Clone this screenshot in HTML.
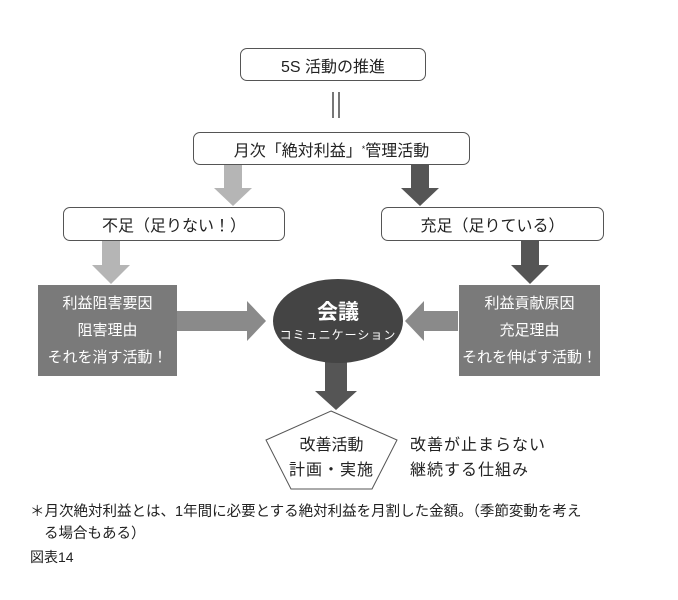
<!DOCTYPE html>
<html><head><meta charset="utf-8"><style>
body{margin:0;background:#fff;width:678px;height:600px;overflow:hidden;font-family:"Liberation Sans","Noto Sans CJK JP",sans-serif;}
.abs{position:absolute}
.rb{position:absolute;border:1px solid #555;border-radius:7px;background:#fff;display:flex;align-items:center;justify-content:center;font-size:16px;color:#222;box-sizing:border-box}
.gb{position:absolute;background:#7a7a7a;color:#fff;font-size:15px;line-height:27px;text-align:center;display:flex;flex-direction:column;justify-content:center;box-sizing:border-box;white-space:nowrap}
.t{position:absolute;font-size:16px;color:#222;white-space:nowrap}
</style></head><body>
<div class="rb" style="left:240px;top:48px;width:186px;height:33px">5S 活動の推進</div>
<div class="abs" style="left:332px;top:92px;width:2px;height:26px;background:#777"></div>
<div class="abs" style="left:338px;top:92px;width:2px;height:26px;background:#777"></div>
<div class="rb" style="left:193px;top:132px;width:277px;height:33px">月次「絶対利益」<sup style="font-size:9px;vertical-align:8px">*</sup>管理活動</div>
<div class="rb" style="left:63px;top:207px;width:222px;height:34px">不足（足りない！）</div>
<div class="rb" style="left:381px;top:207px;width:223px;height:34px">充足（足りている）</div>
<svg class="abs" style="left:0;top:0" width="678" height="600">
 <polygon points="224,165 242,165 242,188 252,188 233,206 214,188 224,188" fill="#b5b5b5"/>
 <polygon points="411,165 429,165 429,188 439,188 420,206 401,188 411,188" fill="#555"/>
 <polygon points="102,241 120,241 120,265 130,265 111,284 92,265 102,265" fill="#b5b5b5"/>
 <polygon points="521,241 539,241 539,265 549,265 530,284 511,265 521,265" fill="#555"/>
 <polygon points="177,311 247,311 247,301 266,321 247,341 247,331 177,331" fill="#8a8a8a"/>
 <polygon points="458,311 424,311 424,301 405,321 424,341 424,331 458,331" fill="#8a8a8a"/>
 <polygon points="325,360 347,360 347,391 357,391 336,410 315,391 325,391" fill="#555"/>
 <ellipse cx="338" cy="321" rx="65" ry="42" fill="#444"/>
 <polygon points="331,411 397,440 372,489 291,489 266,440" fill="#fff" stroke="#555" stroke-width="1"/>
</svg>
<div class="gb" style="left:38px;top:285px;width:139px;height:91px"><div>利益阻害要因</div><div>阻害理由</div><div>それを消す活動！</div></div>
<div class="gb" style="left:459px;top:285px;width:141px;height:91px"><div>利益貢献原因</div><div>充足理由</div><div>それを伸ばす活動！</div></div>
<div class="t" style="left:273px;top:296px;width:130px;text-align:center;color:#fff;font-size:21px;font-weight:bold">会議</div>
<div class="t" style="left:273px;top:326px;width:130px;text-align:center;color:#fff;font-size:12px;letter-spacing:1px">コミュニケーション</div>
<div class="t" style="left:266px;top:431px;width:131px;text-align:center">改善活動</div>
<div class="t" style="left:266px;top:456px;width:131px;text-align:center;letter-spacing:1px">計画・実施</div>
<div class="t" style="left:410px;top:431px;letter-spacing:1px">改善が止まらない</div>
<div class="t" style="left:410px;top:456px;letter-spacing:1px">継続する仕組み</div>
<div class="t" style="left:30px;top:500px;font-size:14.5px">＊月次絶対利益とは、1年間に必要とする絶対利益を月割した金額。（季節変動を考え</div>
<div class="t" style="left:44px;top:522px;font-size:14.5px">る場合もある）</div>
<div class="t" style="left:30px;top:547px;font-size:14px">図表14</div>
</body></html>
